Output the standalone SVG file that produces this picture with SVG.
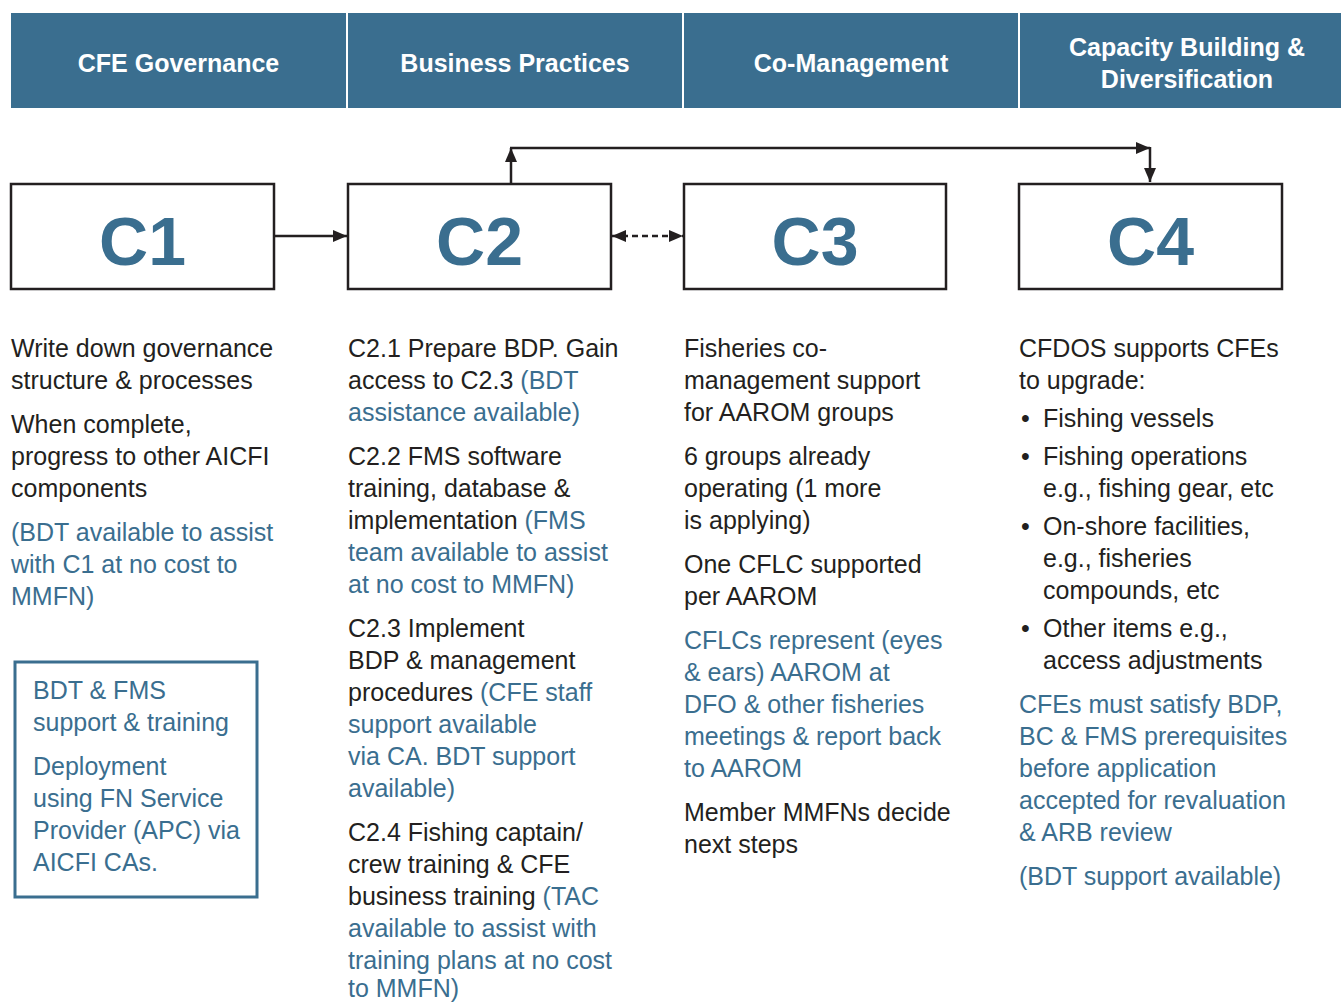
<svg xmlns="http://www.w3.org/2000/svg" width="1341" height="1003" viewBox="0 0 1341 1003">
<defs>
<style>
.hdr{fill:#3a6e8f}
.ht{font-family:"Liberation Sans",Arial,sans-serif;font-weight:bold;font-size:25px;fill:#ffffff;text-anchor:middle}
.box{fill:#ffffff;stroke:#231f20;stroke-width:2.5}
.big{font-family:"Liberation Sans",Arial,sans-serif;font-weight:bold;font-size:68px;fill:#3a6e8f;text-anchor:middle}
.t{font-family:"Liberation Sans",Arial,sans-serif;font-size:25px;fill:#231f20}
.b{fill:#3a6e8f}
.con{fill:none;stroke:#231f20;stroke-width:2.5}
.dash{stroke-dasharray:6 4}
.inset{fill:none;stroke:#3a6e8f;stroke-width:3}
</style>
<marker id="ah" viewBox="0 0 14 12" markerWidth="14" markerHeight="12" refX="14" refY="6" orient="auto-start-reverse" markerUnits="userSpaceOnUse">
<path d="M0,0 L14,6 L0,12 z" fill="#231f20"/>
</marker>
</defs>
<rect width="1341" height="1003" fill="#ffffff"/>

<g id="headers">
<g id="h1"><rect class="hdr" x="11" y="13" width="335" height="95"/><text class="ht" x="178.5" y="72">CFE Governance</text></g>
<g id="h2"><rect class="hdr" x="348" y="13" width="334" height="95"/><text class="ht" x="515" y="72">Business Practices</text></g>
<g id="h3"><rect class="hdr" x="684" y="13" width="334" height="95"/><text class="ht" x="851" y="72">Co-Management</text></g>
<g id="h4"><rect class="hdr" x="1020" y="13" width="321" height="95"/><text class="ht" x="1187" y="56">Capacity Building &amp;</text><text class="ht" x="1187" y="88">Diversification</text></g>
</g>

<g id="C1"><rect class="box" x="11" y="184" width="263" height="105"/><text class="big" x="142.5" y="265">C1</text></g>
<g id="C2"><rect class="box" x="348" y="184" width="263" height="105"/><text class="big" x="479.5" y="265">C2</text></g>
<g id="C3"><rect class="box" x="684" y="184" width="262" height="105"/><text class="big" x="815" y="265">C3</text></g>
<g id="C4"><rect class="box" x="1019" y="184" width="263" height="105"/><text class="big" x="1150.5" y="265">C4</text></g>

<g id="connectors">
<line class="con" x1="275" y1="236" x2="347" y2="236" marker-end="url(#ah)"/>
<line class="con dash" x1="612" y1="236" x2="683" y2="236" marker-start="url(#ah)" marker-end="url(#ah)"/>
<line class="con" x1="511" y1="183" x2="511" y2="148" marker-end="url(#ah)"/>
<line class="con" x1="510" y1="148" x2="1150" y2="148" marker-end="url(#ah)"/>
<line class="con" x1="1150" y1="147" x2="1150" y2="182" marker-end="url(#ah)"/>
</g>

<g id="col1">
<text class="t" x="11" y="357">Write down governance</text>
<text class="t" x="11" y="389">structure &amp; processes</text>
<text class="t" x="11" y="433">When complete,</text>
<text class="t" x="11" y="465">progress to other AICFI</text>
<text class="t" x="11" y="497">components</text>
<text class="t b" x="11" y="541">(BDT available to assist</text>
<text class="t b" x="11" y="573">with C1 at no cost to</text>
<text class="t b" x="11" y="605">MMFN)</text>
</g>

<g id="inset">
<rect class="inset" x="15" y="662" width="242" height="235"/>
<text class="t b" x="33" y="699">BDT &amp; FMS</text>
<text class="t b" x="33" y="731">support &amp; training</text>
<text class="t b" x="33" y="775">Deployment</text>
<text class="t b" x="33" y="807">using FN Service</text>
<text class="t b" x="33" y="839">Provider (APC) via</text>
<text class="t b" x="33" y="871">AICFI CAs.</text>
</g>

<g id="col2">
<text class="t" x="348" y="357">C2.1 Prepare BDP. Gain</text>
<text class="t" x="348" y="389">access to C2.3 <tspan class="b">(BDT</tspan></text>
<text class="t b" x="348" y="421">assistance available)</text>
<text class="t" x="348" y="465">C2.2 FMS software</text>
<text class="t" x="348" y="497">training, database &amp;</text>
<text class="t" x="348" y="529">implementation <tspan class="b">(FMS</tspan></text>
<text class="t b" x="348" y="561">team available to assist</text>
<text class="t b" x="348" y="593">at no cost to MMFN)</text>
<text class="t" x="348" y="637">C2.3 Implement</text>
<text class="t" x="348" y="669">BDP &amp; management</text>
<text class="t" x="348" y="701">procedures <tspan class="b">(CFE staff</tspan></text>
<text class="t b" x="348" y="733">support available</text>
<text class="t b" x="348" y="765">via CA. BDT support</text>
<text class="t b" x="348" y="797">available)</text>
<text class="t" x="348" y="841">C2.4 Fishing captain/</text>
<text class="t" x="348" y="873">crew training &amp; CFE</text>
<text class="t" x="348" y="905">business training <tspan class="b">(TAC</tspan></text>
<text class="t b" x="348" y="937">available to assist with</text>
<text class="t b" x="348" y="969">training plans at no cost</text>
<text class="t b" x="348" y="997">to MMFN)</text>
</g>

<g id="col3">
<text class="t" x="684" y="357">Fisheries co-</text>
<text class="t" x="684" y="389">management support</text>
<text class="t" x="684" y="421">for AAROM groups</text>
<text class="t" x="684" y="465">6 groups already</text>
<text class="t" x="684" y="497">operating (1 more</text>
<text class="t" x="684" y="529">is applying)</text>
<text class="t" x="684" y="573">One CFLC supported</text>
<text class="t" x="684" y="605">per AAROM</text>
<text class="t b" x="684" y="649">CFLCs represent (eyes</text>
<text class="t b" x="684" y="681">&amp; ears) AAROM at</text>
<text class="t b" x="684" y="713">DFO &amp; other fisheries</text>
<text class="t b" x="684" y="745">meetings &amp; report back</text>
<text class="t b" x="684" y="777">to AAROM</text>
<text class="t" x="684" y="821">Member MMFNs decide</text>
<text class="t" x="684" y="853">next steps</text>
</g>

<g id="col4">
<text class="t" x="1019" y="357">CFDOS supports CFEs</text>
<text class="t" x="1019" y="389">to upgrade:</text>
<text class="t" x="1021" y="427">•</text><text class="t" x="1043" y="427">Fishing vessels</text>
<text class="t" x="1021" y="465">•</text><text class="t" x="1043" y="465">Fishing operations</text>
<text class="t" x="1043" y="497">e.g., fishing gear, etc</text>
<text class="t" x="1021" y="535">•</text><text class="t" x="1043" y="535">On-shore facilities,</text>
<text class="t" x="1043" y="567">e.g., fisheries</text>
<text class="t" x="1043" y="599">compounds, etc</text>
<text class="t" x="1021" y="637">•</text><text class="t" x="1043" y="637">Other items e.g.,</text>
<text class="t" x="1043" y="669">access adjustments</text>
<text class="t b" x="1019" y="713">CFEs must satisfy BDP,</text>
<text class="t b" x="1019" y="745">BC &amp; FMS prerequisites</text>
<text class="t b" x="1019" y="777">before application</text>
<text class="t b" x="1019" y="809">accepted for revaluation</text>
<text class="t b" x="1019" y="841">&amp; ARB review</text>
<text class="t b" x="1019" y="885">(BDT support available)</text>
</g>
</svg>
